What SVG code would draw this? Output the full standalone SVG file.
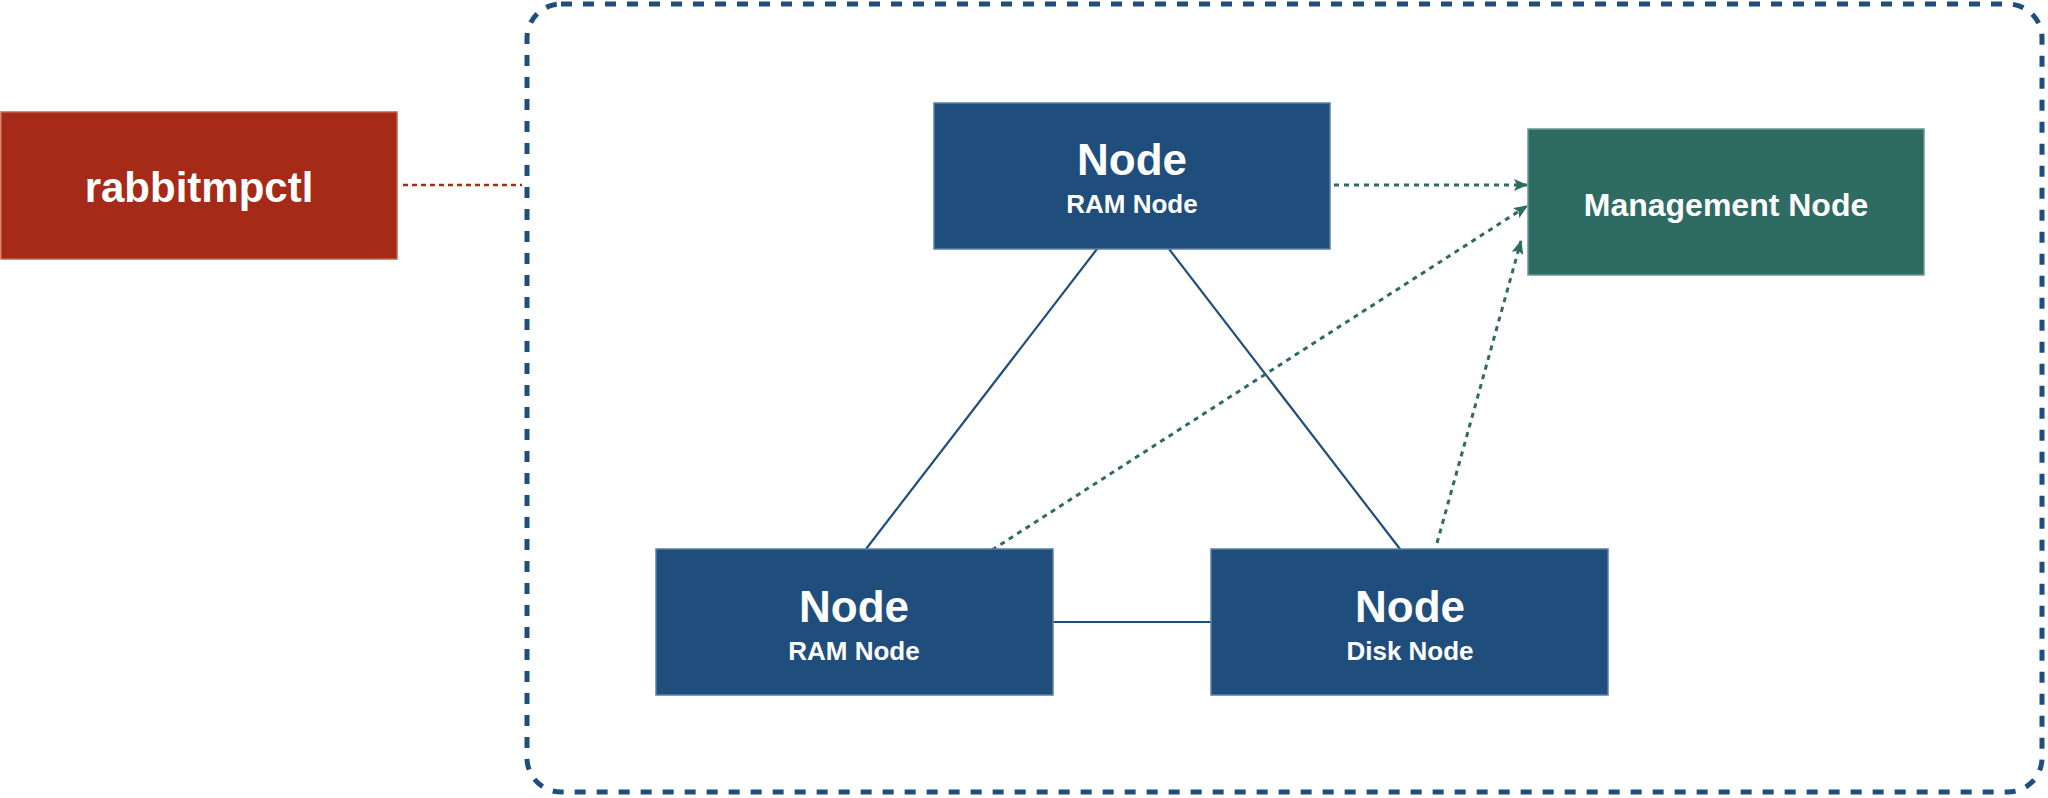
<svg xmlns="http://www.w3.org/2000/svg" width="2048" height="798" viewBox="0 0 2048 798">
  <defs>
    <style>
      .box { stroke-width: 1.5; }
      .blue { fill: #1f4e7d; stroke: #5a7fa6; }
      .green { fill: #2e6b63; stroke: #6a9891; }
      .red { fill: #a52a17; stroke: #c4604f; }
      .title { font-family: "Liberation Sans", Arial, sans-serif; font-weight: bold; fill: #ffffff; text-anchor: middle; }
      .big { font-size: 44px; }
      .small { font-size: 26px; }
      .solid { stroke: #1f4e7d; stroke-width: 2.2; fill: none; }
      .dot { stroke: #2e6b63; stroke-width: 3; stroke-dasharray: 5 5; fill: none; }
    </style>
    <marker id="arrow" viewBox="0 0 14 12" refX="13" refY="6" markerWidth="14" markerHeight="12" markerUnits="userSpaceOnUse" orient="auto">
      <path d="M0,0 L14,6 L0,12 L3,6 Z" fill="#2e6b63"/>
    </marker>
  </defs>
  <rect width="2048" height="798" fill="#ffffff"/>

  <g id="cluster">
    <rect x="527" y="4" width="1515" height="788" rx="34" ry="34" fill="none" stroke="#1f4e7d" stroke-width="5" stroke-dasharray="11 11"/>
  </g>

  <g id="connectors">
    <line x1="403" y1="185" x2="522" y2="185" stroke="#a52a17" stroke-width="2.5" stroke-dasharray="5 4"/>
    <line class="solid" x1="1097" y1="249" x2="866" y2="549"/>
    <line class="solid" x1="1169" y1="249" x2="1400" y2="549"/>
    <line class="solid" x1="1053" y1="622" x2="1211" y2="622"/>
    <line class="dot" x1="1334" y1="185" x2="1527" y2="185" marker-end="url(#arrow)"/>
    <line class="dot" x1="992" y1="550" x2="1527" y2="206" marker-end="url(#arrow)"/>
    <line class="dot" x1="1437" y1="543" x2="1521" y2="241" marker-end="url(#arrow)"/>
  </g>

  <g id="rabbitmpctl">
    <rect class="box red" x="1" y="112" width="396" height="147"/>
    <text class="title" x="199" y="202" font-size="42">rabbitmpctl</text>
  </g>

  <g id="node-top">
    <rect class="box blue" x="934" y="103" width="396" height="146"/>
    <text class="title big" x="1132" y="175">Node</text>
    <text class="title small" x="1132" y="213">RAM Node</text>
  </g>

  <g id="management-node">
    <rect class="box green" x="1528" y="129" width="396" height="146"/>
    <text class="title" x="1726" y="216" font-size="32">Management Node</text>
  </g>

  <g id="node-bottom-left">
    <rect class="box blue" x="656" y="549" width="397" height="146"/>
    <text class="title big" x="854" y="622">Node</text>
    <text class="title small" x="854" y="660">RAM Node</text>
  </g>

  <g id="node-bottom-right">
    <rect class="box blue" x="1211" y="549" width="397" height="146"/>
    <text class="title big" x="1410" y="622">Node</text>
    <text class="title small" x="1410" y="660">Disk Node</text>
  </g>
</svg>
